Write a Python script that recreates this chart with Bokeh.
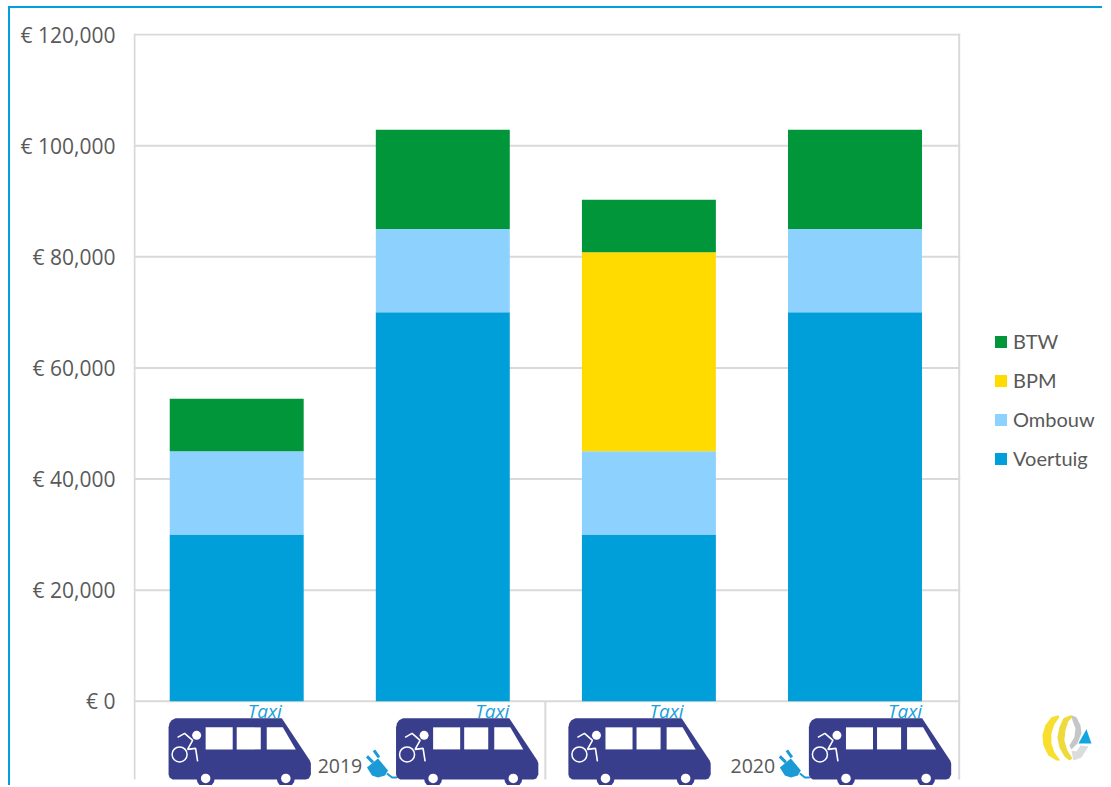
from bokeh.embed import file_html
from bokeh.resources import INLINE
from bokeh.plotting import figure
from bokeh.models import FixedTicker, Legend, LegendItem, ColumnDataSource
from bokeh.core.properties import value

# ---- data ----
categories = [0, 1, 2, 3]
year_labels = ["2019", "2020"]
voertuig = [30000, 70000, 30000, 70000]
ombouw = [15000, 15000, 15000, 15000]
bpm = [0, 0, 35800, 0]
btw = [9450, 17850, 9450, 17850]
series_names = ["Voertuig", "Ombouw", "BPM", "BTW"]
series_colors = ["#009FDA", "#8DD2FF", "#FFDB00", "#009639"]
y_ticks = [0, 20000, 40000, 60000, 80000, 100000, 120000]
y_tick_labels = ["€ 0", "€ 20,000", "€ 40,000", "€ 60,000", "€ 80,000", "€ 100,000", "€ 120,000"]

# ---- layout ----
OX, OY = 11, 10          # where the canvas starts on the page
W, H = 1092, 777
GRID = "#D9D9D9"
TEXT = "#595959"
NAVY = "#393E8C"
PLUG = "#1C9AD6"
K = 20000 / 110.83
CAT = 205.67


def X(px):
    return (px - 237) / CAT


def Y(py):
    return (701 - py) * K


p = figure(width=W, height=H, output_backend="svg", toolbar_location=None,
           x_range=(X(134), X(OX + W)), y_range=(Y(OY + H), Y(35)),
           x_axis_location=None, min_border_left=123, min_border_top=25,
           min_border_bottom=0, min_border_right=0, outline_line_color=None,
           background_fill_color="white", border_fill_color="white")
p.styles = {"position": "absolute", "left": "8px", "top": "6px",
            "border-left": "2px solid #00A0DC", "border-top": "2px solid #00A0DC",
            "box-sizing": "content-box"}
p.xgrid.visible = False
p.ygrid.visible = False

ax = p.yaxis[0]
ax.ticker = FixedTicker(ticks=y_ticks)
ax.major_label_overrides = dict(zip(y_ticks, y_tick_labels))
ax.axis_line_color = None
ax.major_tick_line_color = None
ax.minor_tick_line_color = None
ax.major_tick_out = 0
ax.major_label_standoff = 18
ax.major_label_text_font = "Open Sans"
ax.major_label_text_font_size = "21px"
ax.major_label_text_color = TEXT

# grid lines (stop at the plot's right edge)
p.segment(x0=[X(135)] * len(y_ticks), x1=[X(959)] * len(y_ticks), y0=y_ticks, y1=y_ticks,
          line_color=GRID, line_width=2)
# plot box
p.segment(x0=[X(135), X(958), X(545)], x1=[X(135), X(958), X(545)],
          y0=[Y(779), Y(779), Y(779)], y1=[Y(35), Y(35), 0],
          line_color=GRID, line_width=2)

src = ColumnDataSource(dict(x=categories, Voertuig=voertuig, Ombouw=ombouw, BPM=bpm, BTW=btw))
rs = p.vbar_stack(series_names, x="x", width=0.65, color=series_colors, source=src, line_color=None)

# legend
items = [LegendItem(label=n, renderers=[r]) for n, r in zip(series_names, rs)][::-1]
lg = Legend(items=items, location=(860, 317), glyph_width=15, glyph_height=15, label_standoff=5,
            spacing=15, padding=0, margin=0, border_line_color=None, background_fill_alpha=0,
            label_text_font="Lato", label_text_font_size="20px", label_text_color=TEXT)
p.add_layout(lg, "center")


def shift(pts, ox, oy):
    return [X(ox + a) for a, b in pts], [Y(oy + b) for a, b in pts]


bus_left = [169, 396, 568, 808]
taxi_x = [265, 492, 666, 904]
plug_left = [366, 778]
year_x = [340, 752]
TOP = 718

BODY = [(0, 9), (1, 5), (3, 2), (7, 0), (113, 0), (141, 42), (142, 45), (142, 56), (140, 60), (137, 61),
        (4, 61), (1, 59), (0, 56)]
WIN1 = [(37, 9), (64, 9), (64, 31), (37, 31)]
WIN2 = [(68, 9), (92, 9), (92, 31), (68, 31)]
WIN3 = [(98, 9), (114, 9), (127, 31), (98, 31)]
ARM = [(9, 19), (16, 15), (24, 22), (19, 31), (27, 30), (29, 43)]

for bx in bus_left:
    xs, ys = shift(BODY, bx, TOP)
    p.patch(xs, ys, fill_color=NAVY, line_color=None)
    for w in (WIN1, WIN2, WIN3):
        xs, ys = shift(w, bx, TOP)
        p.patch(xs, ys, fill_color="white", line_color=None)
    xs, ys = shift(ARM, bx, TOP)
    p.line(xs, ys, line_color="white", line_width=1.6)
    p.scatter([X(bx + 11)], [Y(TOP + 36)], size=15, fill_color=None, line_color="white", line_width=1.5)
    p.scatter([X(bx + 28)], [Y(TOP + 17)], size=9, fill_color="white", line_color=None)
    for dx in (37, 117):
        p.scatter([X(bx + dx)], [Y(778)], size=18, fill_color=NAVY, line_color=None)
        p.scatter([X(bx + dx)], [Y(778)], size=9.5, fill_color="white", line_color=None)

p.text([X(v) for v in taxi_x], [Y(711)] * 4, text=["Taxi"] * 4, text_align="center", text_baseline="middle",
       text_font=value("Open Sans"), text_font_style="italic", text_font_size="19px", text_color="#1AA0DC")

HEAD = [(1, 15), (12, 6), (22, 18), (19, 23), (12, 25), (6, 23)]
CABLE = [(21, 21), (26, 25), (31, 25)]
for lx in plug_left:
    xs, ys = shift(HEAD, lx, 752)
    p.patch(xs, ys, fill_color=PLUG, line_color=None)
    xs, ys = shift(CABLE, lx, 752)
    p.line(xs, ys, line_color=PLUG, line_width=2)
    for a, b in (((1, 4), (7, 10)), ((8, -2), (13, 5))):
        xs, ys = shift([a, b], lx, 752)
        p.line(xs, ys, line_color=PLUG, line_width=3)

p.text([X(v) for v in year_x], [Y(766)] * 2, text=year_labels, text_align="center", text_baseline="middle",
       text_font=value("Open Sans"), text_font_size="19.5px", text_color=TEXT)

# logo
LOGO_Y1 = [(1057, 715), (1050, 717), (1044, 725), (1041, 735), (1042, 745), (1047, 755), (1055, 760),
           (1059, 760), (1053, 752), (1050, 743), (1050, 733), (1053, 724), (1058, 717)]
LOGO_Y2 = [(1069, 715), (1062, 718), (1058, 727), (1056, 737), (1058, 747), (1063, 756), (1068, 760),
           (1071, 758), (1066, 750), (1063, 740), (1064, 730), (1067, 721), (1072, 716)]
LOGO_G1 = [(1070, 715), (1075, 717), (1079, 725), (1080, 733), (1076, 743), (1070, 749), (1068, 745),
           (1073, 737), (1074, 728), (1071, 720)]
LOGO_G2 = [(1072, 760), (1080, 757), (1087, 746), (1079, 745), (1075, 751), (1070, 750)]
LOGO_T = [(1085, 729), (1077, 743), (1090, 743)]
for pts, c in ((LOGO_Y1, "#F8DF2E"), (LOGO_Y2, "#EFDA3C"), (LOGO_G1, "#C4C6C8"), (LOGO_G2, "#DADCDE"), (LOGO_T, "#12A5E4")):
    p.patch([X(a) for a, b in pts], [Y(b) for a, b in pts], fill_color=c, line_color=None)

open("out.html", "w").write(file_html(p, INLINE))
